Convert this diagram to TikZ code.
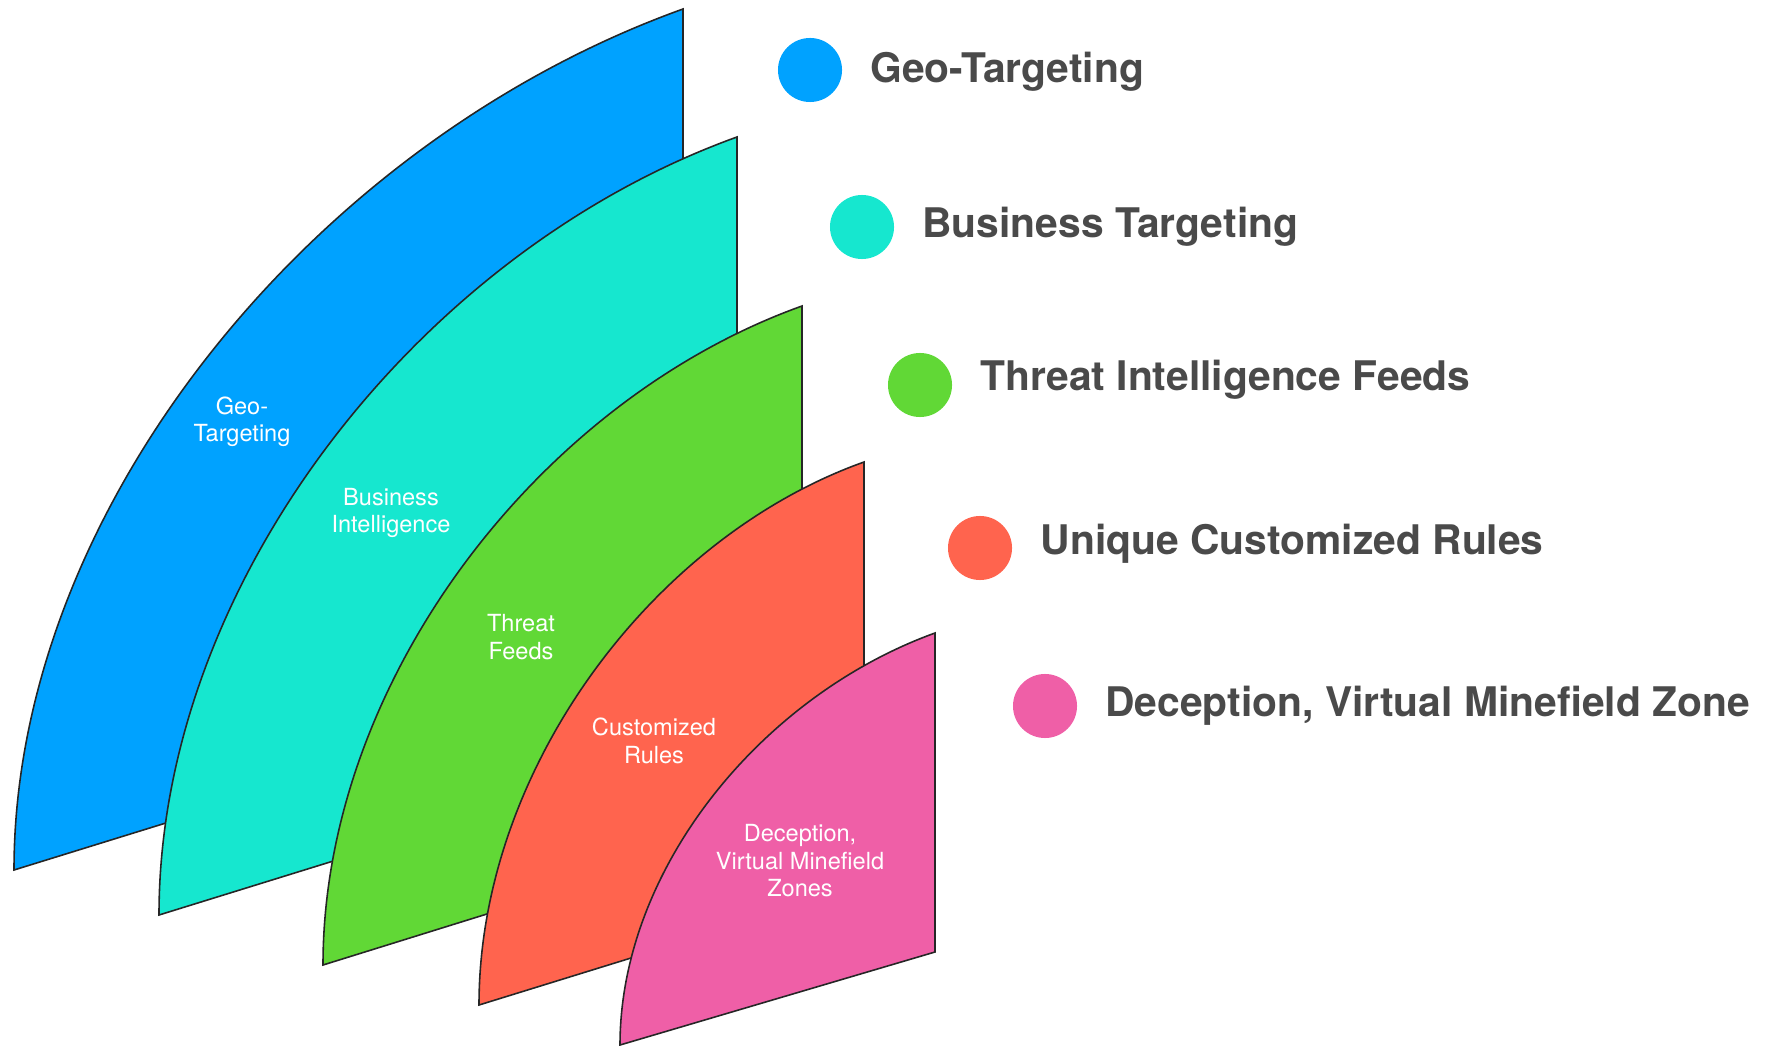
\documentclass[tikz,border=0pt]{standalone}
\usepackage{fontspec}
\setmainfont{TeX Gyre Heros}
\usetikzlibrary{positioning}

\definecolor{geoblue}{HTML}{00A2FF}
\definecolor{bizteal}{HTML}{16E7CF}
\definecolor{feedgreen}{HTML}{61D836}
\definecolor{rulered}{HTML}{FF644E}
\definecolor{trappink}{HTML}{EF5FA7}
\definecolor{keygray}{HTML}{4A4A4A}

\tikzset{
  layer/.style={draw=black!85, line width=0.45pt},
  tag/.style={text=white, align=center, inner sep=0pt, font=\fontsize{6.7}{7.8}\selectfont},
  dot/.style={circle, minimum size=0.64cm, inner sep=0pt},
  keytext/.style={right=0.27cm of #1, inner sep=0pt, text=keygray, font=\fontsize{11.6}{14}\selectfont\bfseries},
}

\begin{document}
\begin{tikzpicture}[x=0.01cm, y=-0.01cm]
    \useasboundingbox (0,0) rectangle (1767,1046);

    % layers, back to front
    \filldraw[layer, fill=geoblue] (14,870) .. controls (14,509) and (313,142) .. (683,9) -- (683,663) -- cycle;
    \filldraw[layer, fill=bizteal] (159,915) .. controls (159,584) and (418,252) .. (737,137) -- (737,736) -- cycle;
    \filldraw[layer, fill=feedgreen] (323,965) .. controls (323,683) and (537,401) .. (802,306) -- (802,816) -- cycle;
    \filldraw[layer, fill=rulered] (479,1005) .. controls (479,771) and (651,538) .. (864,462) -- (864,886) -- cycle;
    \filldraw[layer, fill=trappink] (620,1045) .. controls (620,869) and (761,696) .. (935,633) -- (935,952) -- cycle;

    \node[tag] (geo) at (242,422) {Geo-\\Targeting};
    \node[tag] (biz) at (391,513) {Business\\Intelligence};
    \node[tag] (feed) at (521,637) {Threat\\Feeds};
    \node[tag] (rule) at (654,741) {Customized\\Rules};
    \node[tag] (trap) at (800,861) {Deception,\\Virtual Minefield\\Zones};

    % legend
    \node[dot, fill=geoblue] (d1) at (810,70) {};
    \node[dot, fill=bizteal] (d2) at (862,227) {};
    \node[dot, fill=feedgreen] (d3) at (920,385) {};
    \node[dot, fill=rulered] (d4) at (980,548) {};
    \node[dot, fill=trappink] (d5) at (1045,706) {};

    \node[keytext=d1, yshift=-0.6pt] (k1) {Geo-Targeting};
    \node[keytext=d2] (k2) {Business Targeting};
    \node[keytext=d3, yshift=1.6pt] (k3) {Threat Intelligence Feeds};
    \node[keytext=d4, yshift=1.2pt] (k4) {Unique Customized Rules};
    \node[keytext=d5] (k5) {Deception, Virtual Minefield Zone};
\end{tikzpicture}
\end{document}
